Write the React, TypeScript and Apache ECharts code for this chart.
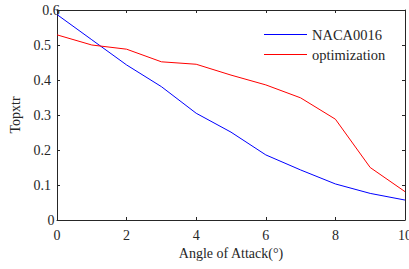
import React, { useEffect, useRef } from "react";
import * as echarts from "echarts";

const angles = [0, 1, 2, 3, 4, 5, 6, 7, 8, 9, 10];
const naca0016 = [0.587, 0.515, 0.443, 0.381, 0.305, 0.251, 0.186, 0.143, 0.103, 0.076, 0.057];
const optimization = [0.529, 0.5, 0.488, 0.452, 0.445, 0.414, 0.386, 0.349, 0.288, 0.15, 0.081];
const seriesNames = ["NACA0016", "optimization"];
const xTitle = "Angle of Attack(°)";
const yTitle = "Topxtr";

const FONT = "Liberation Serif";
const AX = "#262626";
const TXT = "#262626";
const LINE_ICON = "path://M0,0L43,0L43,1L0,1Z";

export default function App() {
  const ref = useRef<HTMLDivElement>(null);
  useEffect(() => {
    document.body.style.margin = "0";
    const chart = echarts.init(ref.current!, null, { renderer: "svg" });
    const axisCommon = {
      type: "value" as const,
      axisLine: { show: true, onZero: false, lineStyle: { color: AX, width: 1 } },
      axisTick: { show: true, inside: true, length: 3, lineStyle: { color: AX } },
      splitLine: { show: false },
    };
    chart.setOption({
      animation: false,
      backgroundColor: "#fff",
      color: ["#0000ff", "#ff0000"],
      textStyle: { fontFamily: FONT },
      grid: { left: 57, right: 4, top: 10, bottom: 49, containLabel: false, outerBoundsMode: "none" },
      legend: {
        orient: "vertical",
        left: 259,
        top: 22,
        itemWidth: 43,
        itemHeight: 14,
        itemGap: 5,
        icon: LINE_ICON,
        textStyle: { fontFamily: FONT, fontSize: 14.5, color: TXT },
        data: seriesNames,
      },
      xAxis: [
        {
          ...axisCommon,
          position: "bottom",
          min: 0,
          max: 10,
          interval: 2,
          name: xTitle,
          nameLocation: "middle",
          nameGap: 26,
          nameTextStyle: { fontFamily: FONT, fontSize: 14, color: TXT },
          axisLabel: {
            fontFamily: FONT,
            fontSize: 14,
            color: TXT,
            margin: 8,
            alignMinLabel: "center",
            alignMaxLabel: "center",
          },
        },
        {
          ...axisCommon,
          position: "top",
          min: 0,
          max: 10,
          interval: 2,
          axisLabel: { show: false },
        },
      ],
      yAxis: [
        {
          ...axisCommon,
          position: "left",
          min: 0,
          max: 0.6,
          interval: 0.1,
          name: yTitle,
          nameLocation: "middle",
          nameGap: 27,
          nameTextStyle: { fontFamily: FONT, fontSize: 14, color: TXT },
          axisLabel: {
            fontFamily: FONT,
            fontSize: 14,
            color: TXT,
            margin: 6,
            alignMinLabel: "center",
            alignMaxLabel: "center",
          },
        },
        {
          ...axisCommon,
          position: "right",
          min: 0,
          max: 0.6,
          interval: 0.1,
          axisLabel: { show: false },
        },
      ],
      series: [
        {
          name: seriesNames[0],
          type: "line",
          symbol: "none",
          data: angles.map((a, i) => [a, naca0016[i]]),
          lineStyle: { color: "#0000ff", width: 1 },
          itemStyle: { color: "#0000ff" },
        },
        {
          name: seriesNames[1],
          type: "line",
          symbol: "none",
          data: angles.map((a, i) => [a, optimization[i]]),
          lineStyle: { color: "#ff0000", width: 1 },
          itemStyle: { color: "#ff0000" },
        },
      ],
    });
    return () => chart.dispose();
  }, []);
  return <div ref={ref} style={{ width: 409, height: 269 }} />;
}
